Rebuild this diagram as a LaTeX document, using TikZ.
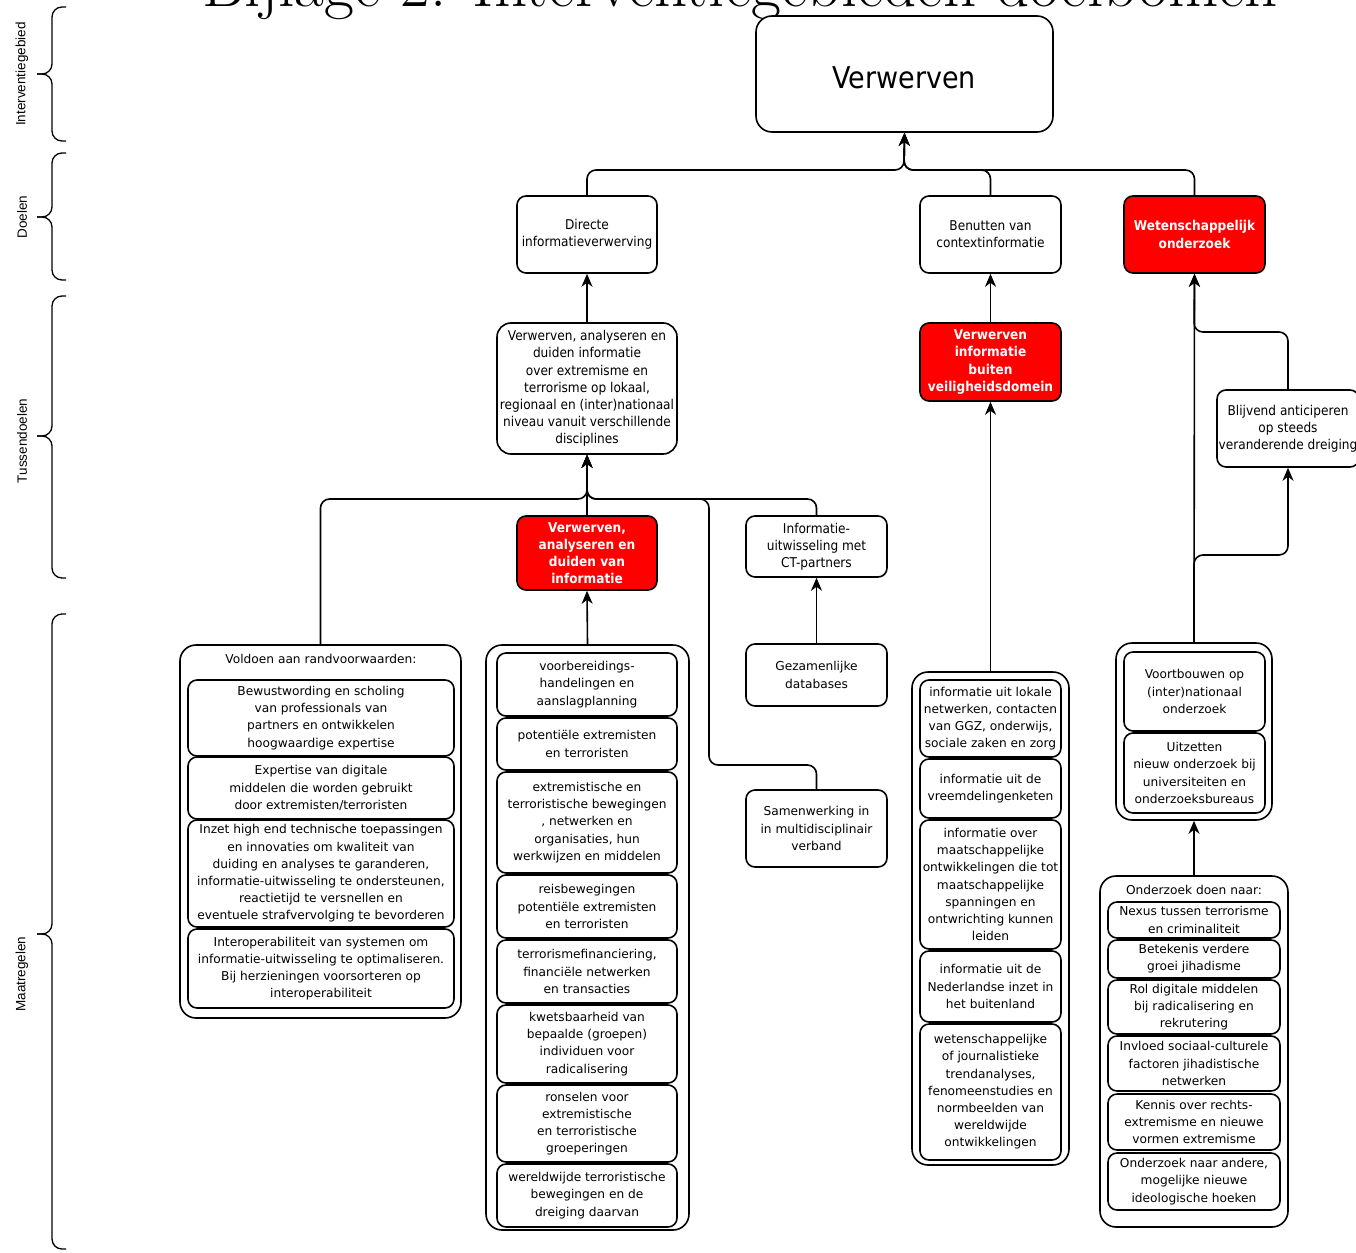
\documentclass[tikz,border=0pt]{standalone}
\usepackage{fontspec}
\usetikzlibrary{arrows.meta}
\newfontfamily\vfont{DejaVu Sans}
\newfontfamily\cfont[FakeStretch=0.9]{DejaVu Sans}
\newfontfamily\afont{Liberation Sans}
\newcommand\bx[7]{\node[#2, minimum width={#5-#3}, minimum height={#6-#4}] (#1) at ({(#3+#5)/2},{(#4+#6)/2}) {#7};}
\newcommand\mybrace[3]{%
  \draw[brc] (66,#1) -- (52,#1) -- (52,#2) -- (37,#2);
  \draw[brc] (66,#3) -- (52,#3) -- (52,#2) -- (37,#2);}
\tikzset{
  base/.style={draw, line width=1.6pt, align=center, inner sep=0pt, fill=white},
  cbox/.style={base, rounded corners=9pt, font=\cfont\fontsize{13.5}{17.2}\selectfont},
  rbox/.style={cbox, fill=red, text=white, font=\cfont\bfseries\fontsize{13.5}{17.2}\selectfont},
  item/.style={base, rounded corners=9pt, font=\vfont\fontsize{12.2}{17.2}\selectfont},
  group/.style={base, rounded corners=16pt},
  hdr/.style={font=\vfont\fontsize{12.2}{17.2}\selectfont, inner sep=0pt},
  conn/.style={line width=1.6pt, rounded corners=9pt},
  arr/.style={conn, -{Stealth[length=13pt,width=11pt,inset=4pt]}},
  side/.style={font=\afont\fontsize{13.5}{16}\selectfont, rotate=90},
  brc/.style={line width=1.3pt, rounded corners=10pt}
}
\begin{document}
\begin{tikzpicture}[x=1pt,y=-1pt]
\useasboundingbox (0,0) rectangle (1356,1252);
% title (cropped at the top edge, as in the reference)
\node[font=\fontsize{65}{70}\selectfont, anchor=base, inner sep=0pt] (title) at (740,7) {Bijlage 2: Interventiegebieden doelbomen};
% side labels and braces
\node[side] (lab1) at (22,74) {Interventiegebied};
\node[side] (lab2) at (22,217) {Doelen};
\node[side] (lab3) at (22,441) {Tussendoelen};
\node[side] (lab4) at (22,974) {Maatregelen};
\mybrace{7}{74}{141}
\mybrace{153}{217}{280}
\mybrace{296}{436}{578}
\mybrace{614}{934}{1249}
% junctions
\coordinate (j1) at (904,170);
\coordinate (j2) at (587,499);
\coordinate (s1) at (709,765);
\coordinate (b1) at (1288,555);
\coordinate (b2) at (1194,332);
% top
\bx{verw}{base, rounded corners=16pt}{756}{16}{1053}{132}{}
\node[font=\cfont\fontsize{30}{34}\selectfont, inner sep=0pt] (verwt) at (904,78) {Verwerven};
\bx{dir}{cbox}{517}{196}{657}{273}{Directe\\informatieverwerving}
\bx{ben}{cbox}{920}{196}{1061}{273}{Benutten van\\contextinformatie}
\bx{wet}{rbox}{1124}{196}{1265}{273}{Wetenschappelijk\\onderzoek}
% tussendoelen
\bx{tus}{cbox, rounded corners=14pt}{497}{323}{677}{454}{Verwerven, analyseren en\\duiden informatie\\over extremisme en\\terrorisme op lokaal,\\regionaal en (inter)nationaal\\niveau vanuit verschillende\\disciplines}
\bx{veil}{rbox}{920}{323}{1061}{401}{Verwerven\\informatie\\buiten\\veiligheidsdomein}
\bx{blijv}{cbox}{1217}{390}{1359}{467}{Blijvend anticiperen\\op steeds\\veranderende dreiging}
\bx{red1}{rbox}{517}{516}{657}{590}{Verwerven,\\analyseren en\\duiden van\\informatie}
\bx{ctp}{cbox}{746}{516}{887}{577}{Informatie-\\uitwisseling met\\CT-partners}
% maatregelen
\bx{gez}{item}{746}{644}{887}{706}{Gezamenlijke\\databases}
\bx{samen}{item}{746}{790}{887}{867}{Samenwerking in\\in multidisciplinair\\verband}
% voldoen group
\bx{vold}{group}{180}{645}{461}{1018}{}
\node[hdr] (voldh) at (321,659) {Voldoen aan randvoorwaarden:};
\bx{v1}{item}{188}{680}{454}{756}{Bewustwording en scholing\\van professionals van\\partners en ontwikkelen\\hoogwaardige expertise}
\bx{v2}{item}{188}{757}{454}{819}{Expertise van digitale\\middelen die worden gebruikt\\door extremisten/terroristen}
\bx{v3}{item}{188}{820}{454}{927}{Inzet high end technische toepassingen\\en innovaties om kwaliteit van\\duiding en analyses te garanderen,\\informatie-uitwisseling te ondersteunen,\\reactietijd te versnellen en\\eventuele strafvervolging te bevorderen}
\bx{v4}{item}{188}{929}{454}{1008}{Interoperabiliteit van systemen om\\informatie-uitwisseling te optimaliseren.\\Bij herzieningen voorsorteren op\\interoperabiliteit}
% list group
\bx{lg}{group}{486}{645}{689}{1230}{}
\bx{l1}{item}{497}{653}{677}{716}{voorbereidings-\\handelingen en\\aanslagplanning}
\bx{l2}{item}{497}{718}{677}{770}{potentiële extremisten\\en terroristen}
\bx{l3}{item}{497}{772}{677}{873}{extremistische en\\terroristische bewegingen\\, netwerken en\\organisaties, hun\\werkwijzen en middelen}
\bx{l4}{item}{497}{875}{677}{938}{reisbewegingen\\potentiële extremisten\\en terroristen}
\bx{l5}{item}{497}{940}{677}{1003}{terrorismefinanciering,\\financiële netwerken\\en transacties}
\bx{l6}{item}{497}{1005}{677}{1083}{kwetsbaarheid van\\bepaalde (groepen)\\individuen voor\\radicalisering}
\bx{l7}{item}{497}{1085}{677}{1162}{ronselen voor\\extremistische\\en terroristische\\groeperingen}
\bx{l8}{item}{497}{1164}{677}{1227}{wereldwijde terroristische\\bewegingen en de\\dreiging daarvan}
% context group
\bx{cg}{group}{912}{672}{1069}{1165}{}
\bx{c1}{item}{920}{680}{1061}{757}{informatie uit lokale\\netwerken, contacten\\van GGZ, onderwijs,\\sociale zaken en zorg}
\bx{c2}{item}{920}{759}{1061}{818}{informatie uit de\\vreemdelingenketen}
\bx{c3}{item}{920}{820}{1061}{949}{informatie over\\maatschappelijke\\ontwikkelingen die tot\\maatschappelijke\\spanningen en\\ontwrichting kunnen\\leiden}
\bx{c4}{item}{920}{951}{1061}{1022}{informatie uit de\\Nederlandse inzet in\\het buitenland}
\bx{c5}{item}{920}{1024}{1061}{1160}{wetenschappelijke\\of journalistieke\\trendanalyses,\\fenomeenstudies en\\normbeelden van\\wereldwijde\\ontwikkelingen}
% voortbouwen group
\bx{vg}{group}{1116}{643}{1272}{820}{}
\bx{o1}{item}{1124}{652}{1265}{731}{Voortbouwen op\\(inter)nationaal\\onderzoek}
\bx{o2}{item}{1124}{733}{1265}{813}{Uitzetten\\nieuw onderzoek bij\\universiteiten en\\onderzoeksbureaus}
% onderzoek group
\bx{og}{group}{1100}{876}{1288}{1227}{}
\node[hdr] (ogh) at (1194,890) {Onderzoek doen naar:};
\bx{n1}{item}{1108}{902}{1280}{938}{Nexus tussen terrorisme\\en criminaliteit}
\bx{n2}{item}{1108}{940}{1280}{978}{Betekenis verdere\\groei jihadisme}
\bx{n3}{item}{1108}{980}{1280}{1034}{Rol digitale middelen\\bij radicalisering en\\rekrutering}
\bx{n4}{item}{1108}{1036}{1280}{1091}{Invloed sociaal-culturele\\factoren jihadistische\\netwerken}
\bx{n5}{item}{1108}{1094}{1280}{1150}{Kennis over rechts-\\extremisme en nieuwe\\vormen extremisme}
\bx{n6}{item}{1108}{1153}{1280}{1210}{Onderzoek naar andere,\\mogelijke nieuwe\\ideologische hoeken}
% connectors
\draw[arr] (dir.north) |- (j1) -- (verw.south);
\draw[arr] (ben.north) |- (j1) -- (verw.south);
\draw[arr] (wet.north) |- (j1) -- (verw.south);
\draw[arr] (tus.north) -- (dir.south);
\draw[arr] (veil.north) -- (ben.south);
\draw[arr] (vg.north) -- (wet.south);
\draw[arr] (blijv.north) |- (b2) -- (wet.south);
\draw[arr] (vg.north) |- (b1) -- (blijv.south);
\draw[arr] (red1.north) -- (tus.south);
\draw[arr] (vold.north) |- (j2) -- (tus.south);
\draw[arr] (ctp.north) |- (j2) -- (tus.south);
\draw[arr] (samen.north) |- (s1) |- (j2) -- (tus.south);
\draw[arr] (lg.north) -- (red1.south);
\draw[arr] (gez.north) -- (ctp.south);
\draw[arr] (cg.north) -- (veil.south);
\draw[arr] (og.north) -- (vg.south);
\end{tikzpicture}
\end{document}
